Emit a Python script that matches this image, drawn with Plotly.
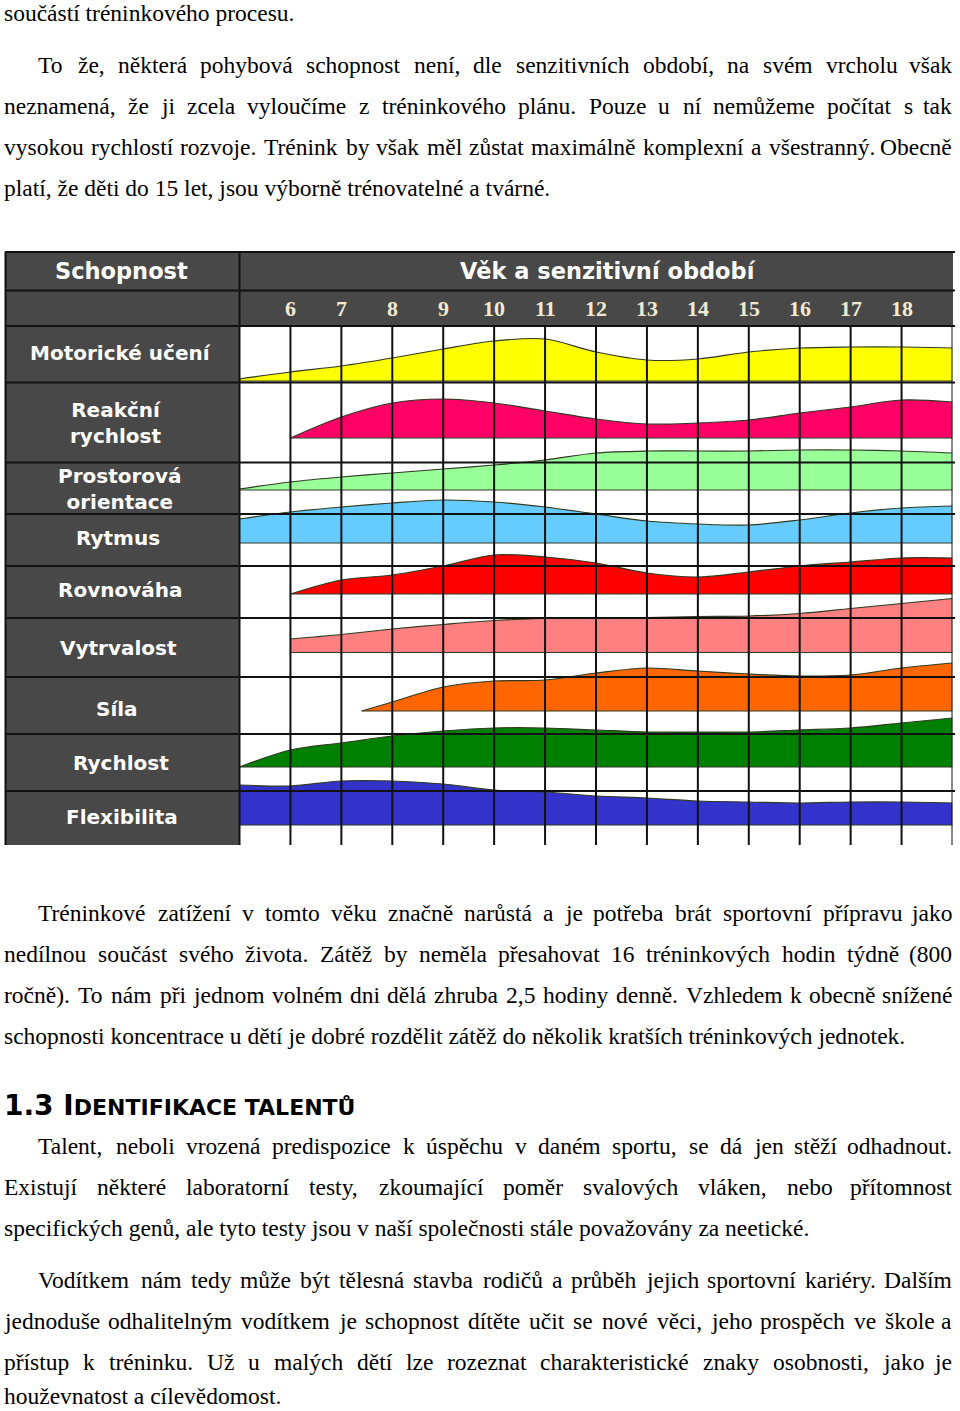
import unicodedata
import plotly.graph_objects as go

# ---------------- data ----------------
ages = [5, 6, 7, 8, 9, 10, 11, 12, 13, 14, 15, 16, 17, 18, 19]
age_ticks = [6, 7, 8, 9, 10, 11, 12, 13, 14, 15, 16, 17, 18]
abilities = ["Motorické učení", "Reakční<br>rychlost", "Prostorová<br>orientace", "Rytmus",
             "Rovnováha", "Vytrvalost", "Síla", "Rychlost", "Flexibilita"]

motoricke_uceni = [2, 9, 15, 23, 32, 40, 42, 29, 21, 22, 29, 33, 34, 34, 33]
reakcni_rychlost = [None, 0, 21, 35, 39, 35, 27, 19, 14, 15, 18, 25, 31, 38, 36]
prostorova_orientace = [1, 8, 13, 17, 21, 25, 30, 37, 39, 39, 39, 40, 40, 39, 37]
rytmus = [24, 31, 36, 40, 43, 41, 36, 29, 22, 19, 18, 23, 30, 35, 37]
rovnovaha = [None, 0, 14, 19, 28, 39, 37, 31, 21, 17, 22, 28, 32, 36, 36]
vytrvalost = [None, 13.5, 18, 23.5, 28, 32, 34, 35, 35, 36, 36.5, 39, 44, 49, 54]
sila_ages = [7.4, 8, 9, 10, 11, 12, 13, 14, 15, 16, 17, 18, 19]
sila = [0, 9, 24, 30, 31, 38, 43, 40, 37, 35, 36, 43, 48]
rychlost = [0, 17, 24, 31, 36, 39, 39, 37, 35, 35, 35, 37, 39, 44, 49]
flexibilita = [40, 39, 44, 44, 41, 35, 33, 29, 27, 24, 23, 22, 23, 23, 22]

# ---------------- layout / style ----------------
W, H = 960, 1411
colors = ["#ffff00", "#ff0066", "#99ff99", "#66ccff", "#ff0000",
          "#ff8080", "#ff6600", "#008000", "#3333cc"]
baselines = [381, 438, 490, 543, 594, 652.5, 711, 767, 825]   # pixel rows of each band base
row_lines = [252, 290.5, 326, 382.5, 462.5, 514, 566, 618, 677, 734, 791]
label_pos = [(120, 353), (115, 423), (120, 489), (118, 538), (120, 590),
             (118, 648), (117, 709), (121, 763), (122, 817)]
DARK = "#484848"
LINE = "#111111"
OUTLINE = "#2f3a22"


def px(x):
    return x / W


def py(y):
    return 1 - y / H


series = [
    (ages, motoricke_uceni), (ages, reakcni_rychlost), (ages, prostorova_orientace),
    (ages, rytmus), (ages, rovnovaha), (ages, vytrvalost), (sila_ages, sila),
    (ages, rychlost), (ages, flexibilita),
]

fig = go.Figure()
for (xs, hs), base, col in zip(series, baselines, colors):
    pts = [(x, h) for x, h in zip(xs, hs) if h is not None]
    xv = [p[0] for p in pts]
    yv = [base - p[1] for p in pts]
    fig.add_trace(go.Scatter(x=[xv[0], xv[-1]], y=[base, base], mode="lines",
                             line=dict(color=OUTLINE, width=1), hoverinfo="skip",
                             showlegend=False))
    fig.add_trace(go.Scatter(x=xv, y=yv, mode="lines", fill="tonexty", fillcolor=col,
                             line=dict(color=OUTLINE, width=1.2, shape="spline", smoothing=0.9),
                             showlegend=False))

shapes = []
shapes.append(dict(type="rect", xref="paper", yref="paper", x0=px(5), x1=px(953),
                   y0=py(326), y1=py(252), fillcolor=DARK, line=dict(width=0), layer="below"))
shapes.append(dict(type="rect", xref="paper", yref="paper", x0=px(5), x1=px(239.5),
                   y0=py(845), y1=py(326), fillcolor=DARK, line=dict(width=0), layer="below"))
for yy in row_lines:
    shapes.append(dict(type="line", xref="paper", yref="paper", x0=px(5), x1=px(955),
                       y0=py(yy), y1=py(yy), line=dict(color=LINE, width=2), layer="above"))
for xx in (5.5, 239.5):
    shapes.append(dict(type="line", xref="paper", yref="paper", x0=px(xx), x1=px(xx),
                       y0=py(845), y1=py(252), line=dict(color=LINE, width=2), layer="above"))
for a in age_ticks + [19]:
    shapes.append(dict(type="line", xref="x", yref="paper", x0=a, x1=a,
                       y0=py(845), y1=py(326), line=dict(color=LINE, width=2), layer="above"))

ann = []
HF = "DejaVu Sans"
C = dict(xanchor="center", yanchor="middle", showarrow=False)
ann.append(dict(text="<b>Schopnost</b>", x=px(121), y=py(271), xref="paper", yref="paper",
                font=dict(family=HF, size=22.5, color="white"), **C))
ann.append(dict(text="<b>Věk a senzitivní období</b>", x=px(608), y=py(271), xref="paper",
                yref="paper", font=dict(family=HF, size=22.5, color="white"), **C))
for a in age_ticks:
    ann.append(dict(text="<b>%d</b>" % a, x=a, y=py(308), xref="x", yref="paper",
                    font=dict(family="Liberation Sans Narrow", size=22, color="#f2ead0"), **C))
for lab, (lx, ly) in zip(abilities, label_pos):
    ann.append(dict(text="<b>%s</b>" % lab, x=px(lx), y=py(ly), xref="paper", yref="paper",
                    font=dict(family=HF, size=20, color="white"), **C))

# ---------------- body text ----------------
TIMES = {" ": 250, ",": 250, ".": 250, "(": 333, ")": 333, "-": 333, ":": 278, ";": 278,
         "A": 722, "B": 667, "C": 667, "D": 722, "E": 611, "F": 556, "G": 722, "H": 722,
         "I": 333, "J": 389, "K": 722, "L": 611, "M": 889, "N": 722, "O": 722, "P": 556,
         "Q": 722, "R": 667, "S": 556, "T": 611, "U": 722, "V": 722, "W": 944, "X": 722,
         "Y": 722, "Z": 611,
         "a": 444, "b": 500, "c": 444, "d": 500, "e": 444, "f": 333, "g": 500, "h": 500,
         "i": 278, "j": 278, "k": 500, "l": 278, "m": 778, "n": 500, "o": 500, "p": 500,
         "q": 500, "r": 333, "s": 389, "t": 278, "u": 500, "v": 500, "w": 722, "x": 500,
         "y": 500, "z": 444}
FS = 23.5
BF = "Liberation Serif"


def tw(s):
    w = 0
    for ch in s:
        base = unicodedata.normalize("NFD", ch)[0]
        w += TIMES.get(base, 500)
    return w * FS / 1000


body_lines = [
    ("součástí tréninkového procesu.", 13, 3, False),
    ("To že, některá pohybová schopnost není, dle senzitivních období, na svém vrcholu však", 65, 37, True),
    ("neznamená, že ji zcela vyloučíme z tréninkového plánu. Pouze u ní nemůžeme počítat s tak", 106, 3, True),
    ("vysokou rychlostí rozvoje. Trénink by však měl zůstat maximálně komplexní a všestranný. Obecně", 147, 3, True),
    ("platí, že děti do 15 let, jsou výborně trénovatelné a tvárné.", 188, 3, False),
    ("Tréninkové zatížení v tomto věku značně narůstá a je potřeba brát sportovní přípravu jako", 913, 37, True),
    ("nedílnou součást svého života. Zátěž by neměla přesahovat 16 tréninkových hodin týdně (800", 954, 3, True),
    ("ročně). To nám při jednom volném dni dělá zhruba 2,5 hodiny denně. Vzhledem k obecně snížené", 995, 3, True),
    ("schopnosti koncentrace u dětí je dobré rozdělit zátěž do několik kratších tréninkových jednotek.", 1036, 3, False),
    ("Talent, neboli vrozená predispozice k úspěchu v daném sportu, se dá jen stěží odhadnout.", 1146, 37, True),
    ("Existují některé laboratorní testy, zkoumající poměr svalových vláken, nebo přítomnost", 1187, 3, True),
    ("specifických genů, ale tyto testy jsou v naší společnosti stále považovány za neetické.", 1228, 3, False),
    ("Vodítkem nám tedy může být tělesná stavba rodičů a průběh jejich sportovní kariéry. Dalším", 1280, 37, True),
    ("jednoduše odhalitelným vodítkem je schopnost dítěte učit se nové věci, jeho prospěch ve škole a", 1321, 3, True),
    ("přístup k tréninku. Už u malých dětí lze rozeznat charakteristické znaky osobnosti, jako je", 1362, 3, True),
    ("houževnatost a cílevědomost.", 1396, 3, False),
]
RIGHT = 953
for text, yy, x0, just in body_lines:
    bfont = dict(family=BF, size=FS, color="black")
    common = dict(y=py(yy), xref="paper", yref="paper", yanchor="middle",
                  showarrow=False, borderpad=0, font=bfont)
    if not just:
        ann.append(dict(text=text, x=px(x0), xanchor="left", **common))
        continue
    words = text.split(" ")
    widths = [tw(w) for w in words]
    gap = (RIGHT - x0 - sum(widths)) / (len(words) - 1)
    xc = x0
    for i, (w, ww) in enumerate(zip(words, widths)):
        if i == len(words) - 1:
            ann.append(dict(text=w, x=px(RIGHT), xanchor="right", **common))
        else:
            ann.append(dict(text=w, x=px(xc), xanchor="left", **common))
        xc += ww + gap

ann.append(dict(text="<b>1.3 I<span style='font-size:22px'>DENTIFIKACE TALENTŮ</span></b>",
                x=px(3), y=py(1105), xref="paper", yref="paper", xanchor="left",
                yanchor="middle", showarrow=False, borderpad=0,
                font=dict(family="DejaVu Sans", size=28, color="black")))

fig.update_layout(
    width=W, height=H, margin=dict(l=0, r=0, t=0, b=0),
    paper_bgcolor="white", plot_bgcolor="white",
    xaxis=dict(domain=[px(239.5), px(952.5)], range=[5, 19], visible=False, fixedrange=True),
    yaxis=dict(domain=[py(845), py(326)], range=[845, 326], visible=False, fixedrange=True),
    shapes=shapes, annotations=ann, showlegend=False,
)
fig.write_html("out.html", config={"displayModeBar": False},
               post_script="document.body.style.margin='0';document.body.style.overflow='hidden';")
